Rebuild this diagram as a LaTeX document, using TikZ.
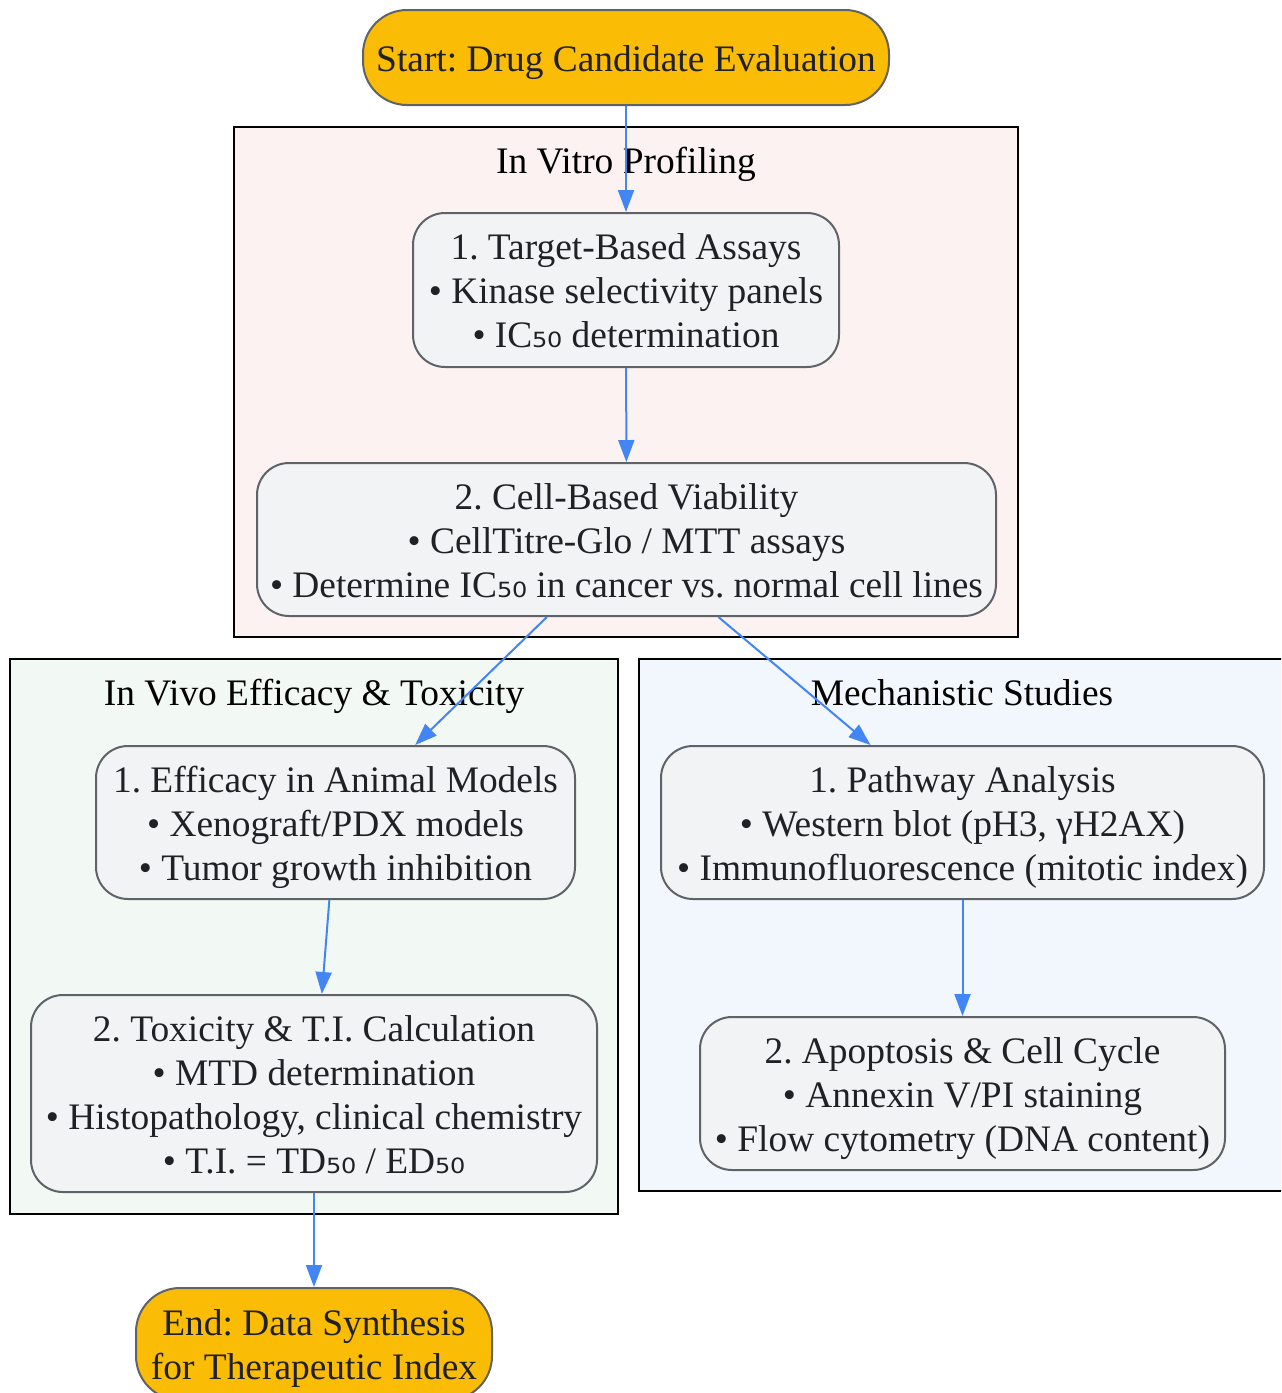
\documentclass[tikz,border=0pt]{standalone}
\usepackage{fontspec}
\setmainfont{Liberation Serif}
\newfontfamily\subfont{DejaVu Sans}
\usetikzlibrary{arrows.meta}
\definecolor{gold}{HTML}{FBBC05}
\definecolor{boxfill}{HTML}{F1F3F4}
\definecolor{boxline}{HTML}{5F6368}
\definecolor{txt}{HTML}{202124}
\definecolor{vitrofill}{HTML}{FCF2F2}
\definecolor{vivofill}{HTML}{F2F8F3}
\definecolor{mechfill}{HTML}{F2F6FD}
\definecolor{arrowblue}{HTML}{4285F4}
\newcommand{\fifty}{{\subfont ₅₀}}
\newcommand{\topstrut}{\rule{0pt}{18.5pt}}
\newcommand{\botstrut}{\rule[-5pt]{0pt}{5pt}}
\tikzset{
  base/.style={draw=boxline, line width=1pt, align=center, inner sep=0pt,
    font=\fontsize{18.7}{22}\selectfont\frenchspacing, text=txt},
  stepbox/.style={base, fill=boxfill, rounded corners=16pt},
  termbox/.style={base, fill=gold, rounded corners=22pt},
  cluster/.style={draw=black, line width=1pt},
  clabel/.style={font=\fontsize{18.7}{22}\selectfont\frenchspacing, text=black, inner sep=0pt, anchor=base},
  flow/.style={draw=arrowblue, line width=1pt, -{Triangle[length=11pt,width=8pt]}}
}
\begin{document}
\begin{tikzpicture}[x=0.5pt,y=-0.5pt]
\clip (0,0) rectangle (1281,1393);
\fill[white] (0,0) rectangle (1281,1393);
% clusters
\draw[cluster, fill=vitrofill] (234,127) rectangle (1018,637);
\draw[cluster, fill=vivofill] (10,659) rectangle (618,1214);
\draw[cluster, fill=mechfill] (639,659) rectangle (1300,1191);
\node[clabel] (lvitro) at (626,173) {In Vitro Profiling};
\node[clabel] (lvivo) at (314,705) {In Vivo Efficacy \& Toxicity};
\node[clabel] (lmech) at (962,705) {Mechanistic Studies};
% nodes
\node[termbox, minimum width=263pt, minimum height=47.5pt] (start) at (626,57.5)
  {\topstrut Start: Drug Candidate Evaluation\botstrut};
\node[stepbox, minimum width=213pt, minimum height=77pt] (t1) at (626,290)
  {\topstrut 1. Target-Based Assays\\ • Kinase selectivity panels\\ • IC\fifty{} determination\botstrut};
\node[stepbox, minimum width=369.5pt, minimum height=76.5pt] (t2) at (626.5,539.5)
  {\topstrut 2. Cell-Based Viability\\ • CellTitre-Glo / MTT assays\\ • Determine IC\fifty{} in cancer vs. normal cell lines\botstrut};
\node[stepbox, minimum width=239.5pt, minimum height=76.5pt] (v1) at (335.5,822.5)
  {\topstrut 1. Efficacy in Animal Models\\ • Xenograft/PDX models\\ • Tumor growth inhibition\botstrut};
\node[stepbox, minimum width=283pt, minimum height=98.5pt] (v2) at (314,1093.5)
  {\topstrut 2. Toxicity \& T.I. Calculation\\ • MTD determination\\ • Histopathology, clinical chemistry\\ • T.I. = TD\fifty{} / ED\fifty\botstrut};
\node[stepbox, minimum width=301.5pt, minimum height=76.5pt] (m1) at (962.5,822.5)
  {\topstrut 1. Pathway Analysis\\ • Western blot (pH3, γH2AX)\\ • Immunofluorescence (mitotic index)\botstrut};
\node[stepbox, minimum width=262.5pt, minimum height=76.5pt] (m2) at (962.5,1093.5)
  {\topstrut 2. Apoptosis \& Cell Cycle\\ • Annexin V/PI staining\\ • Flow cytometry (DNA content)\botstrut};
\node[termbox, minimum width=178pt, minimum height=56pt] (end) at (314,1344)
  {\topstrut End: Data Synthesis\\ for Therapeutic Index\botstrut};
% edges
\draw[flow] (start) -- (t1);
\draw[flow] (t1) -- (t2);
\draw[flow] (t2) -- (v1);
\draw[flow] (t2) -- (m1);
\draw[flow] (v1) -- (v2);
\draw[flow] (m1) -- (m2);
\draw[flow] (v2) -- (end);
\end{tikzpicture}
\end{document}
